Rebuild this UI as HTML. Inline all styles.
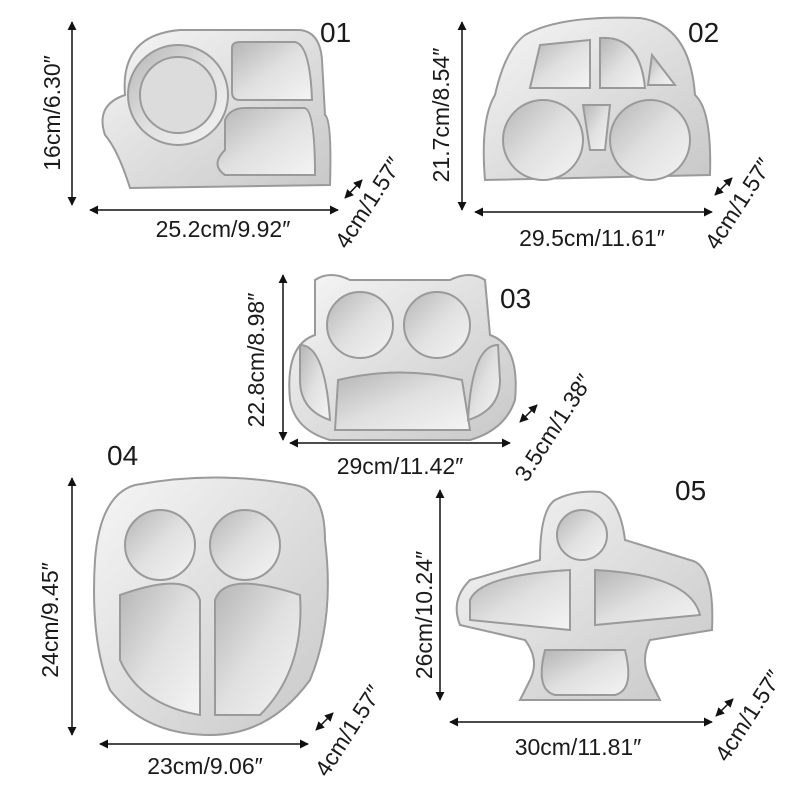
<!DOCTYPE html>
<html><head><meta charset="utf-8"><style>
html,body{margin:0;padding:0;background:#fff}
svg{display:block}
text{font-family:"Liberation Sans",sans-serif;fill:#1a1a1a}
</style></head><body>
<svg width="800" height="800" viewBox="0 0 800 800" xmlns="http://www.w3.org/2000/svg">
<defs>
<linearGradient id="m" x1="0" y1="0" x2="1" y2="1">
<stop offset="0" stop-color="#f6f6f6"/><stop offset="0.5" stop-color="#dedede"/><stop offset="1" stop-color="#c8c8c8"/></linearGradient>
<linearGradient id="c" x1="0" y1="0" x2="1" y2="1">
<stop offset="0" stop-color="#b5b5b5"/><stop offset="0.5" stop-color="#e0e0e0"/><stop offset="1" stop-color="#f4f4f4"/></linearGradient>
<marker id="a" viewBox="0 0 10 10" refX="9" refY="5" markerWidth="6" markerHeight="6" orient="auto-start-reverse"><path d="M0,0L10,5L0,10z" fill="#111"/></marker>
</defs>
<g stroke="#111" stroke-width="1.5" marker-start="url(#a)" marker-end="url(#a)">
<line x1="72" y1="22" x2="72" y2="205"/><line x1="90" y1="210" x2="338" y2="210"/><line x1="345" y1="198" x2="362" y2="180"/>
<line x1="462" y1="22" x2="462" y2="210"/><line x1="475" y1="212" x2="712" y2="212"/><line x1="715" y1="195" x2="732" y2="178"/>
<line x1="283" y1="275" x2="283" y2="440"/><line x1="290" y1="443" x2="510" y2="443"/><line x1="520" y1="422" x2="537" y2="405"/>
<line x1="72" y1="478" x2="72" y2="735"/><line x1="100" y1="744" x2="308" y2="744"/><line x1="316" y1="730" x2="333" y2="713"/>
<line x1="440" y1="490" x2="440" y2="700"/><line x1="450" y1="722" x2="712" y2="722"/><line x1="716" y1="716" x2="733" y2="699"/>
</g>
<g font-size="28"><text x="320" y="42">01</text><text x="688" y="42">02</text><text x="500" y="308">03</text><text x="107" y="465">04</text><text x="675" y="500">05</text></g>
<g font-size="23">
<text x="223" y="237" text-anchor="middle">25.2cm/9.92″</text>
<text x="592" y="246" text-anchor="middle">29.5cm/11.61″</text>
<text x="400" y="474" text-anchor="middle">29cm/11.42″</text>
<text x="205" y="774" text-anchor="middle">23cm/9.06″</text>
<text x="578" y="755" text-anchor="middle">30cm/11.81″</text>
<text transform="translate(60,113) rotate(-90)" text-anchor="middle">16cm/6.30″</text>
<text transform="translate(449,115) rotate(-90)" text-anchor="middle">21.7cm/8.54″</text>
<text transform="translate(264,360) rotate(-90)" text-anchor="middle">22.8cm/8.98″</text>
<text transform="translate(58,620) rotate(-90)" text-anchor="middle">24cm/9.45″</text>
<text transform="translate(432,615) rotate(-90)" text-anchor="middle">26cm/10.24″</text>
<text transform="translate(375,207) rotate(-57)" text-anchor="middle">4cm/1.57″</text>
<text transform="translate(745,208) rotate(-57)" text-anchor="middle">4cm/1.57″</text>
<text transform="translate(560,432) rotate(-57)" text-anchor="middle">3.5cm/1.38″</text>
<text transform="translate(355,735) rotate(-57)" text-anchor="middle">4cm/1.57″</text>
<text transform="translate(755,720) rotate(-57)" text-anchor="middle">4cm/1.57″</text>
</g>
<g stroke="#9a9a9a" stroke-width="2">
<!-- 01 bus -->
<path d="M125,95 Q120,35 180,30 L300,30 Q320,32 322,60 L325,115 Q332,120 330,185 L130,188 Q118,150 105,135 Q95,105 125,95z" fill="url(#m)"/>
<circle cx="178" cy="95" r="50" fill="url(#c)"/><circle cx="178" cy="95" r="38" fill="#dcdcdc"/>
<path d="M232,48 Q232,42 240,42 L295,42 Q310,45 312,100 L240,100 Q232,100 232,92z" fill="url(#c)"/>
<path d="M225,120 Q230,108 245,108 L305,108 Q315,112 315,175 L225,175 Q210,165 225,150z" fill="url(#c)"/>
<!-- 02 car -->
<path d="M525,35 Q560,15 640,18 Q690,25 695,95 Q712,110 710,175 L485,180 Q480,120 495,95 Q505,50 525,35z" fill="url(#m)"/>
<path d="M540,45 L590,40 L590,88 L530,88z" fill="url(#c)"/><path d="M600,38 Q640,35 645,88 L600,88z" fill="url(#c)"/>
<path d="M652,55 L675,85 L648,85z" fill="url(#c)"/>
<circle cx="543" cy="140" r="40" fill="url(#c)"/><circle cx="650" cy="140" r="40" fill="url(#c)"/>
<path d="M583,105 L610,105 L605,150 L590,150z" fill="url(#c)"/>
<!-- 03 owl -->
<path d="M315,280 Q330,270 350,280 L450,280 Q470,270 485,280 L490,335 Q520,345 515,400 Q505,430 470,440 L330,440 Q295,430 290,400 Q285,345 315,335z" fill="url(#m)"/>
<circle cx="360" cy="325" r="33" fill="url(#c)"/><circle cx="437" cy="325" r="33" fill="url(#c)"/>
<path d="M300,345 Q325,345 330,420 Q300,410 300,380z" fill="url(#c)"/>
<path d="M338,380 Q400,365 462,380 L470,430 L335,430z" fill="url(#c)"/>
<path d="M498,345 Q472,345 468,420 Q500,410 500,380z" fill="url(#c)"/>
<!-- 04 owl -->
<path d="M135,485 Q215,470 295,485 Q325,490 325,540 Q335,620 310,680 Q270,735 210,735 Q145,735 110,690 Q90,640 95,560 Q100,495 135,485z" fill="url(#m)"/>
<circle cx="160" cy="545" r="35" fill="url(#c)"/><circle cx="245" cy="545" r="35" fill="url(#c)"/>
<path d="M120,595 Q190,570 200,600 L200,715 Q140,705 120,660z" fill="url(#c)"/>
<path d="M215,600 Q225,570 300,595 Q305,670 260,715 L215,715z" fill="url(#c)"/>
<!-- 05 plane -->
<path d="M555,500 Q575,490 600,492 Q620,500 625,540 L690,560 Q715,565 712,630 L650,640 Q640,660 650,680 L660,700 L520,700 L530,680 Q540,660 525,640 L460,625 Q450,600 470,580 L540,560 Q540,510 555,500z" fill="url(#m)"/>
<circle cx="582" cy="535" r="25" fill="url(#c)"/>
<path d="M470,600 Q480,575 570,570 L570,630 L470,620z" fill="url(#c)"/>
<path d="M595,570 Q690,575 700,615 L595,625z" fill="url(#c)"/>
<path d="M545,650 L625,650 Q635,690 615,695 L555,695 Q535,690 545,650z" fill="url(#c)"/>
</g>
</svg>
</body></html>
